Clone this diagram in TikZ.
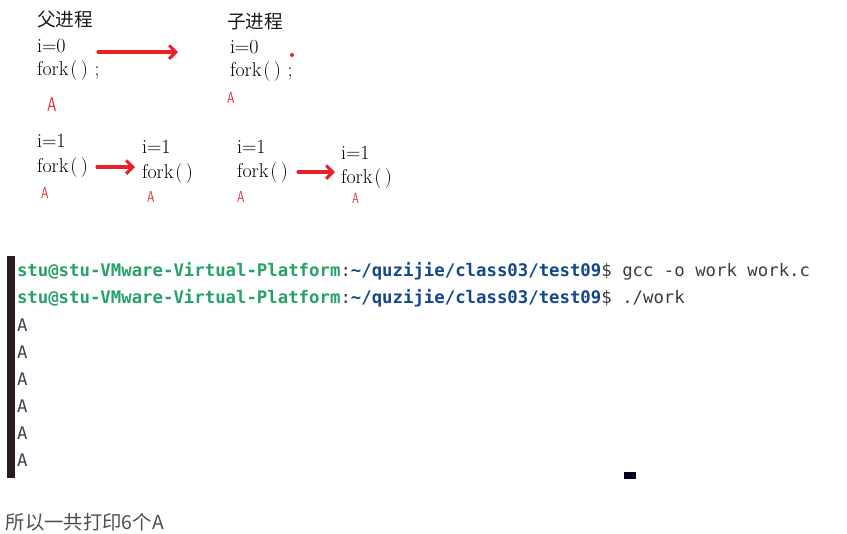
\documentclass[tikz,border=0pt]{standalone}
\usepackage{fontspec}
\setmonofont{DejaVu Sans Mono}
\newfontfamily\cjk{Noto Sans CJK SC}
\usetikzlibrary{arrows.meta}
\definecolor{redmark}{HTML}{E8202A}
\definecolor{termgreen}{HTML}{26A269}
\definecolor{termblue}{HTML}{12488B}
\definecolor{termgray}{HTML}{3C3C3C}
\definecolor{termA}{HTML}{404052}
\definecolor{termbar}{HTML}{2A1B22}
\definecolor{notegray}{HTML}{4D4D4D}
\newcommand{\forkcall}{fork\kern1.5pt(\kern2.5pt)}
\newcommand{\redletter}{\scalebox{0.72}[1]{A}}
\tikzset{
  txt/.style={anchor=base west, inner sep=0pt, outer sep=0pt},
  code/.style={txt, font=\fontsize{15}{18}\selectfont, text=black},
  title/.style={txt, font=\cjk\fontsize{14}{16}\selectfont, text=black!90},
  redA/.style={txt, font=\sffamily\fontsize{12}{14}\selectfont, text=redmark},
  term/.style={txt, font=\ttfamily\fontsize{13}{15}\selectfont, text=termgray},
  termout/.style={txt, font=\ttfamily\fontsize{13}{15}\selectfont, text=termA},
  redarrow/.style={draw=redmark, line width=2.3pt, line cap=round, -{Straight Barb[length=5pt,width=10pt,line width=2.3pt]}},
}
\begin{document}
\begin{tikzpicture}[x=0.75pt,y=-0.75pt]
\useasboundingbox (0,0) rectangle (847,533);
% ---- top: parent process
\node[title] (ptitle) at (37,26) {父进程};
\node[code] (pi) at (37,52) {i=0};
\node[code] (pfork) at (37,75) {\forkcall\kern5pt;};
\node[redA, font=\sffamily\fontsize{15}{17}\selectfont] (pA) at (47,111) {\redletter};
\coordinate (a1s) at (98,52);
\coordinate (a1e) at (178,52);
\draw[redarrow] (a1s) -- (a1e);
% ---- child process
\node[title] (ctitle) at (227,28) {子进程};
\node[code] (ci) at (230,53) {i=0};
\node[code] (cfork) at (230,76) {\forkcall\kern5pt;};
\node[circle, fill=redmark, inner sep=0pt, minimum size=3pt] (cdot) at (292,55) {};
\node[redA] (cA) at (227,103) {\redletter};
% ---- second row
\node[code] (r1i) at (37,147) {i=1};
\node[code] (r1f) at (37,172) {\forkcall};
\node[redA] (r1A) at (41,198) {\redletter};
\coordinate (a2s) at (97,167);
\coordinate (a2e) at (135,167);
\draw[redarrow] (a2s) -- (a2e);
\node[code] (r2i) at (142,153) {i=1};
\node[code] (r2f) at (142,178) {\forkcall};
\node[redA] (r2A) at (147,202) {\redletter};
\node[code] (r3i) at (237,153) {i=1};
\node[code] (r3f) at (237,177) {\forkcall};
\node[redA] (r3A) at (237,202) {\redletter};
\coordinate (a3s) at (298,172);
\coordinate (a3e) at (335,172);
\draw[redarrow] (a3s) -- (a3e);
\node[code] (r4i) at (341,159) {i=1};
\node[code] (r4f) at (341,183) {\forkcall};
\node[redA, font=\sffamily\fontsize{11}{13}\selectfont] (r4A) at (352,203) {\redletter};
% ---- terminal
\fill[termbar] (7,256) rectangle (15,478);
\node[term] (p1) at (17,276) {\textbf{\textcolor{termgreen}{stu@stu-VMware-Virtual-Platform}}:\textbf{\textcolor{termblue}{\string~/quzijie/class03/test09}}\$ gcc -o work work.c};
\node[term] (p2) at (17,303) {\textbf{\textcolor{termgreen}{stu@stu-VMware-Virtual-Platform}}:\textbf{\textcolor{termblue}{\string~/quzijie/class03/test09}}\$ ./work};
\node[termout] (o1) at (17,331) {A};
\node[termout] (o2) at (17,358) {A};
\node[termout] (o3) at (17,385) {A};
\node[termout] (o4) at (17,412) {A};
\node[termout] (o5) at (17,439) {A};
\node[termout] (o6) at (17,466) {A};
\fill[black!88!blue] (624,472) rectangle (636,479);
% ---- note
\node[txt, font=\cjk\fontsize{14.5}{17}\selectfont, text=notegray] (note) at (6,529) {所以一共打印6个A};
\end{tikzpicture}
\end{document}
